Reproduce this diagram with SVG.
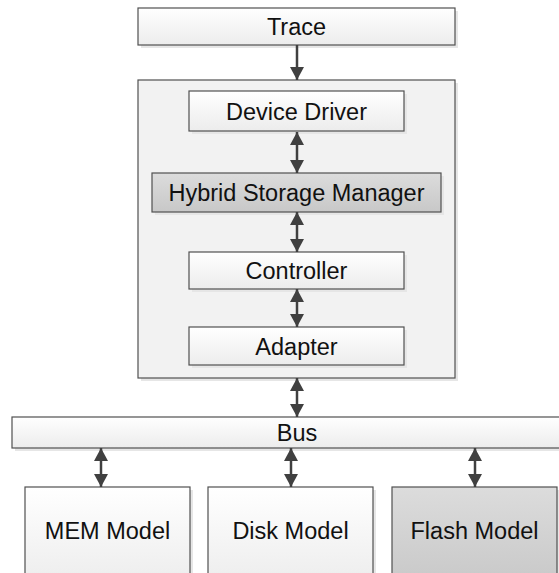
<svg xmlns="http://www.w3.org/2000/svg" width="559" height="573" viewBox="0 0 559 573">
<defs>
<linearGradient id="gw" x1="0" y1="0" x2="0" y2="1"><stop offset="0" stop-color="#ffffff"/><stop offset="1" stop-color="#ececec"/></linearGradient>
<linearGradient id="gg" x1="0" y1="0" x2="0" y2="1"><stop offset="0" stop-color="#dcdcdc"/><stop offset="1" stop-color="#c8c8c8"/></linearGradient>
<marker id="ah" viewBox="0 0 13 14" refX="13" refY="7" markerWidth="13" markerHeight="14" markerUnits="userSpaceOnUse" orient="auto-start-reverse"><path d="M0,0 L13,7 L0,14 Z" fill="#404040"/></marker>
</defs>
<style>
.sh{fill:#e6e6e6}
.box{stroke:#505050;stroke-width:1.2}
.w{fill:url(#gw)}
.g{fill:url(#gg)}
.c{fill:#f2f2f2}
text{font-family:"Liberation Sans",Arial,sans-serif;font-size:23.5px;fill:#111;text-anchor:middle}
.con line{stroke:#404040;stroke-width:2.5}
</style>
<g id="trace"><rect class="sh" x="141" y="11" width="317" height="37"/><rect class="box w" x="138" y="8" width="317" height="37"/><text x="296.5" y="35">Trace</text></g>
<g id="container"><rect class="sh" x="141" y="83" width="317" height="298"/><rect class="box c" x="138" y="80" width="317" height="298"/></g>
<g id="device-driver"><rect class="sh" x="192" y="94" width="215" height="40"/><rect class="box w" x="189" y="91" width="215" height="40"/><text x="296.5" y="119.5">Device Driver</text></g>
<g id="hsm"><rect class="sh" x="155" y="176" width="289" height="39"/><rect class="box g" x="152" y="173" width="289" height="39"/><text x="296.5" y="201">Hybrid Storage Manager</text></g>
<g id="controller"><rect class="sh" x="192" y="255" width="215" height="37"/><rect class="box w" x="189" y="252" width="215" height="37"/><text x="296.5" y="279">Controller</text></g>
<g id="adapter"><rect class="sh" x="192" y="330" width="215" height="38"/><rect class="box w" x="189" y="327" width="215" height="38"/><text x="296.5" y="355">Adapter</text></g>
<g id="bus"><rect class="sh" x="15" y="420" width="560" height="31"/><rect class="box w" x="12" y="417" width="560" height="31"/><text x="297" y="441">Bus</text></g>
<g id="mem"><rect class="sh" x="28" y="490" width="165" height="100"/><rect class="box w" x="25" y="487" width="165" height="100"/><text x="107.5" y="538.5">MEM Model</text></g>
<g id="disk"><rect class="sh" x="211" y="490" width="165" height="100"/><rect class="box w" x="208" y="487" width="165" height="100"/><text x="290.5" y="538.5">Disk Model</text></g>
<g id="flash"><rect class="sh" x="395" y="490" width="165" height="100"/><rect class="box g" x="392" y="487" width="165" height="100"/><text x="474.5" y="538.5">Flash Model</text></g>
<g class="con" id="connectors">
<line x1="297" y1="45" x2="297" y2="80" marker-end="url(#ah)"/>
<line x1="297" y1="132" x2="297" y2="173" marker-start="url(#ah)" marker-end="url(#ah)"/>
<line x1="297" y1="212" x2="297" y2="252" marker-start="url(#ah)" marker-end="url(#ah)"/>
<line x1="297" y1="289" x2="297" y2="327" marker-start="url(#ah)" marker-end="url(#ah)"/>
<line x1="297" y1="378" x2="297" y2="417" marker-start="url(#ah)" marker-end="url(#ah)"/>
<line x1="101" y1="448" x2="101" y2="487" marker-start="url(#ah)" marker-end="url(#ah)"/>
<line x1="291" y1="448" x2="291" y2="487" marker-start="url(#ah)" marker-end="url(#ah)"/>
<line x1="475" y1="448" x2="475" y2="487" marker-start="url(#ah)" marker-end="url(#ah)"/>
</g>
</svg>
